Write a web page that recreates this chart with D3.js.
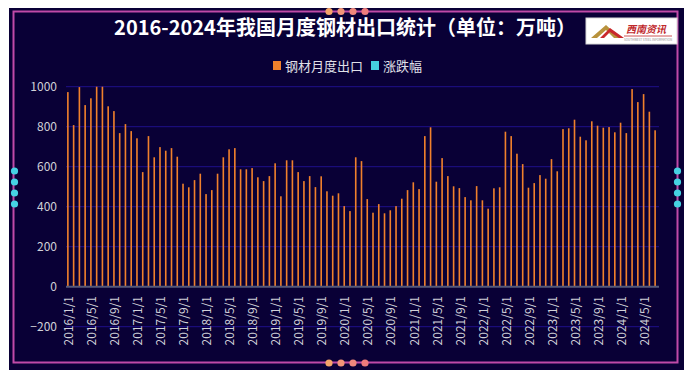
<!DOCTYPE html>
<html>
<head>
<meta charset="utf-8">
<script src="https://cdn.jsdelivr.net/npm/d3@7"></script>
<style>
  body { margin: 0; background: #ffffff; }
  svg { display: block; font-family: "Noto Sans CJK SC", "Noto Sans", sans-serif; }
</style>
</head>
<body>
<div id="chart"></div>
<script>
// chart data, 2016/1 .. 2024/7
var years = [2016, 2017, 2018, 2019, 2020, 2021, 2022, 2023, 2024];
var months = [];
years.forEach(function(y) {
  for (var m = 1; m <= 12; m++) {
    if (y === 2024 && m > 7) break;
    months.push(y + "/" + m + "/1");
  }
});

var exportValues = [
  973, 808, 998, 908, 942, 1000, 1000, 902, 878, 768, 813, 778,
  742, 573, 753, 647, 698, 680, 693, 650, 515, 497, 533, 565,
  463, 483, 565, 647, 687, 693, 587, 587, 593, 547, 528, 553,
  617, 452, 632, 632, 573, 528, 553, 498, 552, 477, 455, 467,
  403, 378, 647, 628, 438, 370, 413, 367, 382, 403, 440, 483,
  522, 488, 753, 797, 525, 643, 553, 502, 493, 448, 432, 503,
  432, 390, 492, 497, 775, 753, 665, 613, 495, 518, 558, 540,
  638, 577, 788, 792, 835, 750, 732, 827, 805, 795, 798, 772,
  820, 768, 988, 923, 963, 875, 782
];

var seriesNames = ["钢材月度出口", "涨跌幅"];
var seriesColors = ["#f0802c", "#45d0e0"];
var yTicks = [-200, 0, 200, 400, 600, 800, 1000];

var width = 689;
var height = 376;

var svg = d3.select("#chart")
  .append("svg")
  .attr("width", width)
  .attr("height", height);

// dark panel with magenta frame
svg.append("rect")
  .attr("x", 9).attr("y", 8)
  .attr("width", 675).attr("height", 362)
  .attr("fill", "#090036");

svg.append("rect")
  .attr("x", 13.5).attr("y", 11.5)
  .attr("width", 664).attr("height", 351)
  .attr("fill", "none")
  .attr("stroke", "#c04aa8")
  .attr("stroke-width", 2);

// decorative dots on frame
var dotColors = ["#f5a468", "#f29478", "#f0887c", "#ee7c7c"];
[11.5, 363].forEach(function(yy) {
  svg.selectAll(null)
    .data(dotColors)
    .enter()
    .append("circle")
    .attr("cx", function(d, i) { return 329 + i * 12; })
    .attr("cy", yy)
    .attr("r", 3.6)
    .attr("fill", function(d) { return d; });
});
[14.5, 677.5].forEach(function(xx) {
  svg.selectAll(null)
    .data([0, 1, 2, 3])
    .enter()
    .append("circle")
    .attr("cx", xx)
    .attr("cy", function(d) { return 171 + d * 11; })
    .attr("r", 3.6)
    .attr("fill", "#45d3e3");
});

// scales
var x = d3.scaleBand()
  .domain(months)
  .range([66, 659]);

var x1 = d3.scaleBand()
  .domain(seriesNames)
  .range([x.bandwidth() * 0.15, x.bandwidth() * 0.85]);

var y = d3.scaleLinear()
  .domain([-200, 1000])
  .range([326.7, 86.7]);

// grid lines
svg.append("g")
  .selectAll("line")
  .data(yTicks.filter(function(d) { return d !== 0; }))
  .enter()
  .append("line")
  .attr("x1", 66).attr("x2", 659)
  .attr("y1", function(d) { return y(d); })
  .attr("y2", function(d) { return y(d); })
  .attr("stroke", "#1f0f8a")
  .attr("stroke-width", 1);

// y labels
svg.append("g")
  .selectAll("text")
  .data(yTicks)
  .enter()
  .append("text")
  .attr("x", 57)
  .attr("y", function(d) { return y(d); })
  .attr("dy", "0.35em")
  .attr("text-anchor", "end")
  .attr("fill", "#d0d0d8")
  .style("font-size", "12px")
  .text(function(d) { return d < 0 ? "\u2212" + Math.abs(d) : d; });

// bars
svg.append("g")
  .selectAll("rect")
  .data(exportValues)
  .enter()
  .append("rect")
  .attr("x", function(d, i) {
    return x(months[i]) + x1(seriesNames[0]) + x1.bandwidth() * 0.1;
  })
  .attr("width", x1.bandwidth() * 0.8)
  .attr("y", function(d) { return y(d); })
  .attr("height", function(d) { return y(0) - y(d); })
  .attr("fill", seriesColors[0]);

// x axis base line
svg.append("line")
  .attr("x1", 66).attr("x2", 659)
  .attr("y1", y(0)).attr("y2", y(0))
  .attr("stroke", "#55587a")
  .attr("stroke-width", 2);

// x labels every 4 months, rotated
svg.append("g")
  .selectAll("text")
  .data(months.filter(function(d, i) { return i % 4 === 0; }))
  .enter()
  .append("text")
  .attr("transform", function(d) {
    return "translate(" + (x(d) + x.bandwidth() / 2) + ",296) rotate(-90)";
  })
  .attr("dy", "0.35em")
  .attr("text-anchor", "end")
  .attr("fill", "#d0d0d8")
  .style("font-size", "12px")
  .text(function(d) { return d; });

// title
svg.append("text")
  .attr("x", 345)
  .attr("y", 35)
  .attr("text-anchor", "middle")
  .attr("fill", "#ffffff")
  .style("font-size", "20px")
  .style("font-weight", "bold")
  .text("2016-2024年我国月度钢材出口统计（单位：万吨）");

// legend
var legend = svg.append("g")
  .selectAll("g")
  .data(seriesNames)
  .enter()
  .append("g")
  .attr("transform", function(d, i) {
    return "translate(" + (273 + i * 98) + ",61)";
  });

legend.append("rect")
  .attr("width", 8).attr("height", 9)
  .attr("fill", function(d, i) { return seriesColors[i]; });

legend.append("text")
  .attr("x", 12)
  .attr("y", 5)
  .attr("dy", "0.35em")
  .attr("fill", "#e0e0e8")
  .style("font-size", "13px")
  .text(function(d) { return d; });

// logo box
var logo = svg.append("g").attr("transform", "translate(586,18)");
logo.append("rect")
  .attr("width", 91).attr("height", 26)
  .attr("fill", "#ffffff")
  .attr("stroke", "#d8d8d8");
logo.append("path")
  .attr("d", "M5,20 L20,7 L34,20 L28,20 L20,12 L11,20 Z")
  .attr("fill", "#b8923c");
logo.append("path")
  .attr("d", "M14,20 L24,10 L38,20 L33,20 L24,14 L18,20 Z")
  .attr("fill", "#c8282c");
logo.append("text")
  .attr("x", 40).attr("y", 15)
  .attr("fill", "#c0282c")
  .style("font-size", "10px")
  .style("font-weight", "bold")
  .style("font-style", "italic")
  .text("西南资讯");
logo.append("line")
  .attr("x1", 38).attr("x2", 86)
  .attr("y1", 18).attr("y2", 18)
  .attr("stroke", "#c0282c").attr("stroke-width", 0.8);
logo.append("text")
  .attr("x", 38).attr("y", 23)
  .attr("fill", "#888888")
  .style("font-size", "3px")
  .text("SOUTHWEST STEEL INFORMATION");
</script>
</body>
</html>
